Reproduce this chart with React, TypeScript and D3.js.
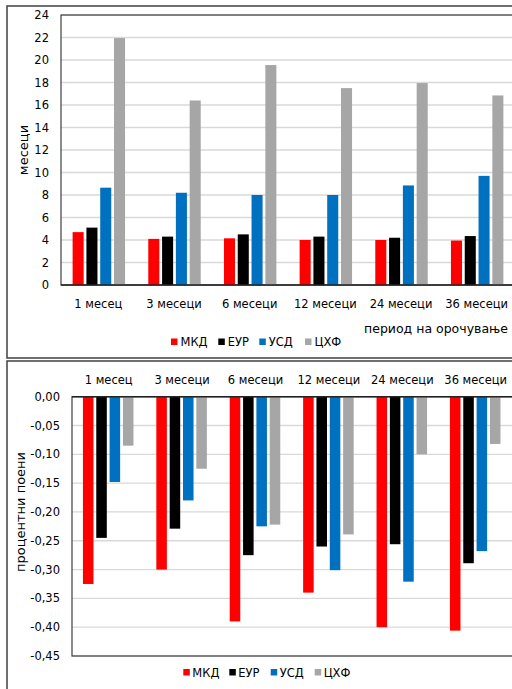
import React from "react";
import * as d3 from "d3";

const categories = ["1 месец", "3 месеци", "6 месеци", "12 месеци", "24 месеци", "36 месеци"];
const series = ["МКД", "ЕУР", "УСД", "ЦХФ"];
const colors = ["#ff0000", "#000000", "#0070c0", "#a6a6a6"];

// Top chart: maturity in months
const topMKD = [4.7, 4.1, 4.15, 4.0, 4.0, 3.95];
const topEUR = [5.1, 4.3, 4.5, 4.3, 4.2, 4.35];
const topUSD = [8.65, 8.2, 8.0, 8.0, 8.85, 9.7];
const topCHF = [21.95, 16.4, 19.55, 17.5, 17.95, 16.85];
const topTicks = [0, 2, 4, 6, 8, 10, 12, 14, 16, 18, 20, 22, 24];

// Bottom chart: change in percentage points
const botMKD = [-0.325, -0.3, -0.39, -0.34, -0.4, -0.406];
const botEUR = [-0.245, -0.229, -0.275, -0.26, -0.256, -0.289];
const botUSD = [-0.148, -0.18, -0.225, -0.301, -0.321, -0.268];
const botCHF = [-0.085, -0.125, -0.222, -0.239, -0.1, -0.082];
const botTicks = [0, -0.05, -0.1, -0.15, -0.2, -0.25, -0.3, -0.35, -0.4, -0.45];

const FONT = "'DejaVu Sans', Tahoma, sans-serif";

export default function App() {
  const topData = [topMKD, topEUR, topUSD, topCHF];
  const botData = [botMKD, botEUR, botUSD, botCHF];

  // top chart scales
  const tx = d3.scaleBand<string>().domain(categories).range([61, 515]);
  const ty = d3.scaleLinear().domain([0, 24]).range([285, 15]);
  const tInner = d3.scaleBand<string>().domain(series).range([0, 55.2]).paddingInner(0.2).paddingOuter(0.1);

  // bottom chart scales
  const bx = d3.scaleBand<string>().domain(categories).range([72, 512.4]);
  const by = d3.scaleLinear().domain([0, -0.45]).range([396.7, 656]);
  const bInner = d3.scaleBand<string>().domain(series).range([0, 53.2]).paddingInner(0.21).paddingOuter(0.1);

  const fmt = (v: number) => v.toFixed(2).replace(".", ",");

  const topLegendX = [171, 218.3, 259.3, 305];
  const botLegendX = [183.3, 229.3, 270.7, 314.7];

  return (
    <svg width={512} height={689} style={{ position: "absolute", left: 0, top: 0, background: "#fff" }} fontFamily={FONT}>
      <rect x={0} y={0} width={512} height={689} fill="#fff" />

      {/* ---------- TOP CHART ---------- */}
      <rect x={7} y={6} width={520} height={352} fill="#fff" stroke="#404040" strokeWidth={1.5} />
      {topTicks.filter((t) => t > 0).map((t) => (
        <line key={"tg" + t} x1={61} x2={515} y1={ty(t)} y2={ty(t)} stroke="#d9d9d9" strokeWidth={1.3} />
      ))}
      <rect x={61} y={15} width={460} height={270} fill="none" stroke="#404040" strokeWidth={1.2} />
      {categories.map((c, i) =>
        series.map((s, j) => {
          const v = topData[j][i];
          const x = (tx(c) as number) + tx.bandwidth() / 2 - 27.6 + (tInner(s) as number);
          return (
            <rect key={"tb" + i + j} x={x} y={ty(v)} width={tInner.bandwidth()} height={ty(0) - ty(v)} fill={colors[j]} />
          );
        })
      )}
      <line x1={61} x2={515} y1={ty(0)} y2={ty(0)} stroke="#222" strokeWidth={1.6} />
      {topTicks.map((t) => (
        <text key={"tt" + t} x={49} y={ty(t)} textAnchor="end" dominantBaseline="central" fontSize={11.5} fill="#000">
          {t}
        </text>
      ))}
      <text transform={`translate(23,150) rotate(-90)`} textAnchor="middle" dominantBaseline="central" fontSize={13} fill="#000">
        месеци
      </text>
      {categories.map((c) => (
        <text key={"tc" + c} x={(tx(c) as number) + tx.bandwidth() / 2 - 0.5} y={304} textAnchor="middle" dominantBaseline="central" fontSize={11.5} fill="#000">
          {c}
        </text>
      ))}
      <text x={508} y={328.5} textAnchor="end" dominantBaseline="central" fontSize={12.5} fill="#000">
        период на орочување
      </text>
      {series.map((s, j) => (
        <g key={"tl" + s}>
          <rect x={topLegendX[j]} y={338.5} width={6.5} height={6.5} fill={colors[j]} />
          <text x={topLegendX[j] + 9.5} y={342} dominantBaseline="central" fontSize={11.5} fill="#000">
            {s}
          </text>
        </g>
      ))}

      {/* ---------- BOTTOM CHART ---------- */}
      <rect x={7} y={361} width={520} height={340} fill="#fff" stroke="#404040" strokeWidth={1.5} />
      {botTicks.filter((t) => t < 0).map((t) => (
        <line key={"bg" + t} x1={72} x2={512.4} y1={by(t)} y2={by(t)} stroke="#d9d9d9" strokeWidth={1.3} />
      ))}
      <rect x={72} y={396.7} width={460} height={by(-0.45) - by(0)} fill="none" stroke="#404040" strokeWidth={1.2} />
      {categories.map((c, i) =>
        series.map((s, j) => {
          const v = botData[j][i];
          const x = (bx(c) as number) + bx.bandwidth() / 2 - 26.6 - 0.5 + (bInner(s) as number);
          return (
            <rect key={"bb" + i + j} x={x} y={by(0)} width={bInner.bandwidth()} height={by(v) - by(0)} fill={colors[j]} />
          );
        })
      )}
      <line x1={72} x2={512.4} y1={by(0)} y2={by(0)} stroke="#222" strokeWidth={1.6} />
      {botTicks.map((t) => (
        <text key={"bt" + t} x={60} y={by(t)} textAnchor="end" dominantBaseline="central" fontSize={11.5} fill="#000">
          {fmt(t)}
        </text>
      ))}
      <text transform={`translate(20,512) rotate(-90)`} textAnchor="middle" dominantBaseline="central" fontSize={13} fill="#000">
        процентни поени
      </text>
      {categories.map((c) => (
        <text key={"bc" + c} x={(bx(c) as number) + bx.bandwidth() / 2} y={380} textAnchor="middle" dominantBaseline="central" fontSize={11.5} fill="#000">
          {c}
        </text>
      ))}
      {series.map((s, j) => (
        <g key={"bl" + s}>
          <rect x={botLegendX[j]} y={669} width={6.5} height={6.5} fill={colors[j]} />
          <text x={botLegendX[j] + 9} y={672.5} dominantBaseline="central" fontSize={11.5} fill="#000">
            {s}
          </text>
        </g>
      ))}
    </svg>
  );
}
